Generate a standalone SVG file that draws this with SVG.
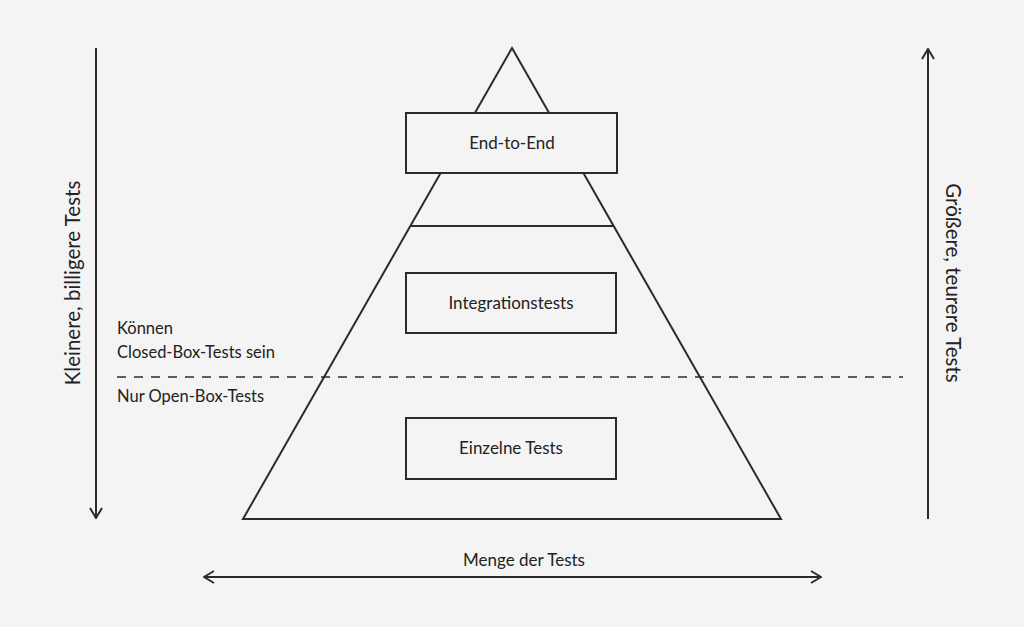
<svg xmlns="http://www.w3.org/2000/svg" width="1024" height="627" viewBox="0 0 1024 627">
<style>
.s{fill:none;stroke:#2b2b2b;stroke-width:2}
.b{fill:#f4f4f4;stroke:#2b2b2b;stroke-width:2}
.t{font-family:Lato,"Liberation Sans",sans-serif;font-size:17px;fill:#222}
.l{font-size:16.5px}
.r{font-size:20.5px}
.m{text-anchor:middle}
</style>
<defs>
<marker id="ah" viewBox="0 0 12 14" refX="11" refY="7" markerWidth="12" markerHeight="14" markerUnits="userSpaceOnUse" orient="auto-start-reverse">
<path d="M1 1 L11 7 L1 13" fill="none" stroke="#2b2b2b" stroke-width="2"/>
</marker>
</defs>
<rect width="1024" height="627" fill="#f4f4f4"/>
<g id="pyramid">
<polygon class="s" points="512,48 781,519 243,519"/>
<line class="s" x1="410" y1="226" x2="614" y2="226"/>
</g>
<g id="connectors">
<line class="s" x1="96" y1="48" x2="96" y2="518" marker-end="url(#ah)"/>
<line class="s" x1="928" y1="519" x2="928" y2="49" marker-end="url(#ah)"/>
<line class="s" x1="204" y1="577" x2="821" y2="577" marker-start="url(#ah)" marker-end="url(#ah)"/>
<line x1="117" y1="377" x2="903" y2="377" stroke="#2b2b2b" stroke-width="1.5" stroke-dasharray="9,8"/>
</g>
<g id="e2e">
<rect class="b" x="406" y="113" width="211" height="60"/>
<text class="t m" x="512" y="149">End-to-End</text>
</g>
<g id="integration">
<rect class="b" x="406" y="273" width="210" height="60"/>
<text class="t m" x="511" y="309">Integrationstests</text>
</g>
<g id="unit">
<rect class="b" x="406" y="418" width="210" height="61"/>
<text class="t m" x="511" y="454">Einzelne Tests</text>
</g>
<g id="labels">
<text class="t m" x="524" y="566">Menge der Tests</text>
<text class="t r m" transform="translate(80,283) rotate(-90)">Kleinere, billigere Tests</text>
<text class="t r m" transform="translate(946,283) rotate(90)">Größere, teurere Tests</text>
<text class="t l" x="117" y="334">Können</text>
<text class="t l" x="117" y="358">Closed-Box-Tests sein</text>
<text class="t l" x="117" y="402">Nur Open-Box-Tests</text>
</g>
</svg>
